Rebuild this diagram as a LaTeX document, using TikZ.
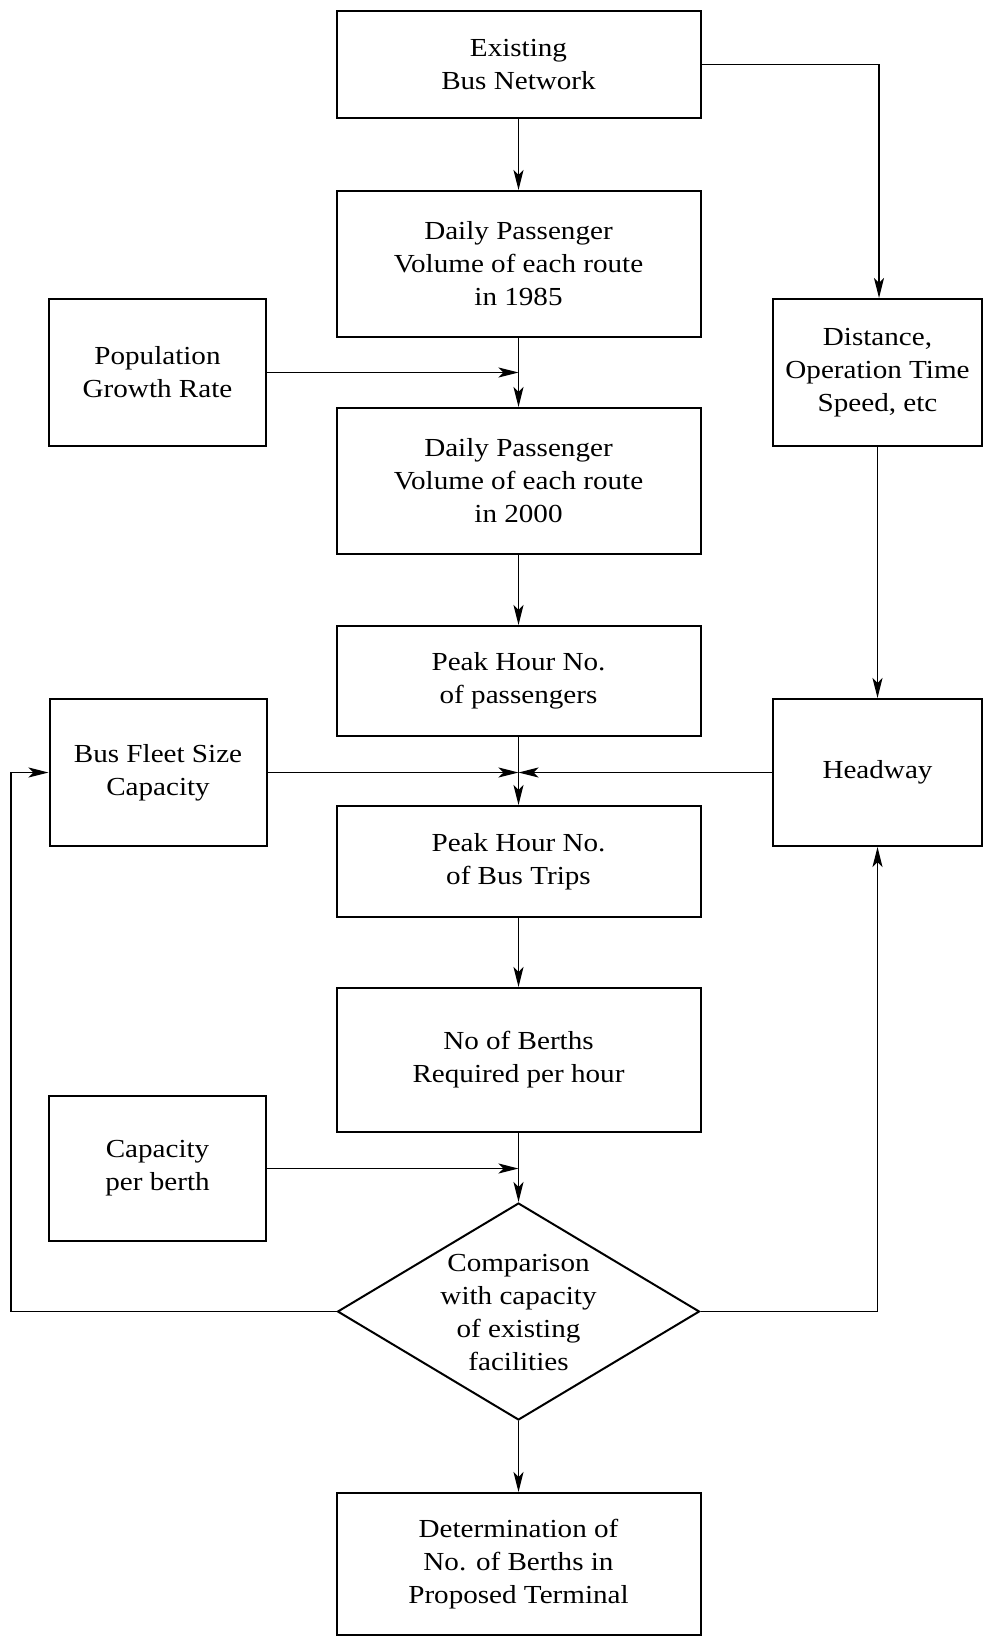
\documentclass[tikz,border=0pt]{standalone}
\usepackage{fontspec}
\setmainfont{Liberation Serif}[FakeStretch=1.12]
\usetikzlibrary{arrows.meta,shapes.geometric}
\begin{document}
\begin{tikzpicture}[x=1pt,y=-1pt,
  box/.style={draw,line width=2pt,inner sep=0pt,align=center,
    font=\fontsize{26}{33}\selectfont},
  mainbox/.style={box,minimum width=364pt},
  sidebox/.style={box,minimum width=217pt,minimum height=147pt},
  lbl/.style={inner sep=0pt,align=center,font=\fontsize{26}{33}\selectfont},
  conn/.style={line width=1.3pt},
  arr/.style={conn,-{Stealth[length=20pt,width=10pt,inset=5pt]}}]
\useasboundingbox (0,0) rectangle (983,1637);
% main column
\node[mainbox,minimum height=107pt] (top) at (518.5,64.5) {Existing\\Bus Network};
\node[mainbox,minimum height=146pt] (d85) at (518.5,264) {Daily Passenger\\Volume of each route\\in 1985};
\node[mainbox,minimum height=146pt] (d00) at (518.5,481) {Daily Passenger\\Volume of each route\\in 2000};
\node[mainbox,minimum height=110pt] (php) at (518.5,681) {Peak Hour No.\\of passengers};
\node[mainbox,minimum height=111pt] (pbt) at (518.5,861.5) {Peak Hour No.\\of Bus Trips};
\node[mainbox,minimum height=144pt] (berth) at (518.5,1060) {No of Berths\\Required per hour};
\node[draw,line width=2pt,diamond,inner sep=0pt,minimum width=362pt,minimum height=217pt] (dia) at (518.5,1311.5) {};
\node[lbl] (dialbl) at (518.5,1313) {Comparison\\with capacity\\of existing\\facilities};
\node[mainbox,minimum height=142pt] (fin) at (518.5,1564) {Determination of\\No. of Berths in\\Proposed Terminal};
% side boxes
\node[sidebox] (pop) at (157.5,372.5) {Population\\Growth Rate};
\node[sidebox] (fleet) at (158,772.5) {Bus Fleet Size\\Capacity};
\node[sidebox,minimum height=145pt] (cap) at (157.5,1168.5) {Capacity\\per berth};
\node[box,minimum width=209pt,minimum height=147pt] (dist) at (877.5,372.5) {Distance,\\Operation Time\\Speed, etc};
\node[box,minimum width=209pt,minimum height=147pt] (head) at (877.5,772.5) {Headway};
% junction coordinates
\coordinate (j1) at (d85.south |- pop.east);
\coordinate (j2) at (php.south |- fleet.east);
\coordinate (j3) at (berth.south |- cap.east);
\coordinate (tr) at (879,0 |- top.east);
\coordinate (lc) at (11,0 |- dia.west);
\coordinate (rc) at (877.5,0 |- dia.east);
% connectors
\draw[arr] (top.south) -- (d85.north);
\draw[arr] (d85.south) -- (d00.north);
\draw[arr] (pop.east) -- (j1);
\draw[arr] (d00.south) -- (php.north);
\draw[arr] (php.south) -- (pbt.north);
\draw[arr] (fleet.east) -- (j2);
\draw[arr] (head.west) -- (j2);
\draw[arr] (pbt.south) -- (berth.north);
\draw[arr] (berth.south) -- (dia.north);
\draw[arr] (cap.east) -- (j3);
\draw[arr] (dia.south) -- (fin.north);
\draw[arr] (top.east) -- (tr) -- (tr |- dist.north);
\draw[arr] (dist.south) -- (head.north);
\draw[arr] (dia.west) -- (lc) -- (lc |- fleet.west) -- (fleet.west);
\draw[arr] (dia.east) -- (rc) -- (head.south);
\end{tikzpicture}
\end{document}
